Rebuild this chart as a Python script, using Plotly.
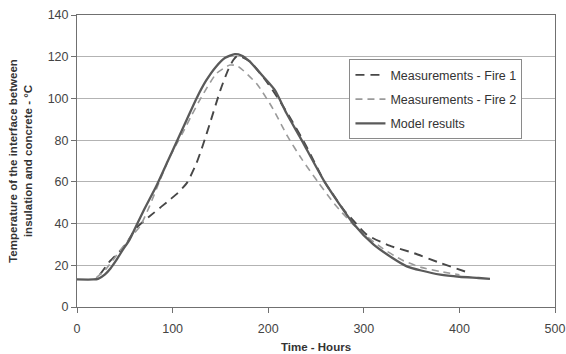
import plotly.graph_objects as go

# Model results
model_t = [0, 17, 22, 29, 35, 41.5, 48, 55, 62, 70, 83, 95, 104, 115, 125, 135, 145, 155, 165,
           172, 180, 195, 207, 219, 235, 259, 289, 310, 330, 345, 360, 380, 400, 420, 432]
model_T = [13.2, 13.2, 13.5, 15.5, 18.5, 22.7, 27.5, 32.3, 39, 46.5, 58, 70, 79, 90, 100, 108.5, 115, 119.5, 121.2,
           120.6, 118, 110.4, 104, 93, 80, 60, 40, 30, 23.5, 19.5, 17.5, 15.5, 14.5, 13.9, 13.5]

# Measurements - Fire 1
fire1_t = [24, 34.5, 48, 55, 62, 80, 97, 105, 115, 125, 132, 139, 150, 158, 163.5, 168,
           180, 200, 220, 240, 259, 270, 280, 292, 303, 327, 352, 380, 408]
fire1_T = [15.5, 22, 28.3, 33, 37.9, 45, 51.4, 54.5, 59.5, 69, 78, 88, 104, 113.6, 118.4, 120.5,
           118, 107, 93, 77, 60, 52.5, 46, 40, 34.7, 29.4, 25.9, 21.1, 16.7]

# Measurements - Fire 2
fire2_t = [20, 30, 40, 50, 60, 66, 76, 87, 97, 110, 120, 130, 146, 160, 168,
           188, 205, 220, 235, 252, 270, 288, 300, 320, 340, 360, 380, 400]
fire2_T = [14, 18, 24, 30, 35.5, 38.7, 48.5, 61, 72, 83, 92, 100.5, 112, 116, 115.5,
           107, 95, 82, 71, 60, 49, 40, 35, 28, 22.5, 19, 17, 15.5]

x_ticks = [0, 100, 200, 300, 400, 500]
y_ticks = [0, 20, 40, 60, 80, 100, 120, 140]

FONT = "Liberation Sans, Arial, sans-serif"

fig = go.Figure()
fig.add_trace(go.Scatter(
    x=fire1_t, y=fire1_T, mode="lines", name="Measurements - Fire 1",
    line=dict(color="#474747", width=1.9, dash="9px,6px", shape="spline", smoothing=0.6),
    legendgroup="a"))
fig.add_trace(go.Scatter(
    x=fire2_t, y=fire2_T, mode="lines", name="Measurements - Fire 2",
    line=dict(color="#9a9a9a", width=1.6, dash="7px,5px", shape="spline", smoothing=0.6),
    legendgroup="b"))
fig.add_trace(go.Scatter(
    x=model_t, y=model_T, mode="lines", name="Model results",
    line=dict(color="#5a5a5a", width=2.3, shape="spline", smoothing=0.6),
    legendgroup="c"))

fig.update_layout(
    width=566, height=354,
    margin=dict(l=77, r=11, t=15, b=46.5, autoexpand=False),
    paper_bgcolor="white", plot_bgcolor="white",
    font=dict(family=FONT, color="#333333", size=12),
    showlegend=True,
    legend=dict(
        x=0.57, y=0.8486, xanchor="left", yanchor="top",
        bgcolor="white", bordercolor="#8a8a8a", borderwidth=1,
        font=dict(family=FONT, size=12.5, color="#333333"),
        tracegroupgap=5, traceorder="grouped",
    ),
    xaxis=dict(
        range=[0, 500], tickvals=x_ticks, ticktext=[str(v) for v in x_ticks],
        showgrid=False, zeroline=False, automargin=False,
        showline=True, linecolor="#707070", linewidth=1, mirror=True,
        ticks="outside", ticklen=5, tickcolor="#707070",
        ticklabelstandoff=5,
        tickfont=dict(size=12.5, color="#444444"),
        title=dict(text="<b>Time - Hours</b>", font=dict(size=11.5, color="#333333"), standoff=7),
    ),
    yaxis=dict(
        range=[0, 140], tickvals=y_ticks, ticktext=[str(v) for v in y_ticks],
        showgrid=True, gridcolor="#b3b3b3", gridwidth=1, zeroline=False, automargin=False,
        showline=True, linecolor="#707070", linewidth=1, mirror=True,
        ticks="outside", ticklen=5, tickcolor="#707070",
        tickfont=dict(size=12.5, color="#444444"),
        title=dict(text="<b>Temperature of the interface between<br>insulation and concrete - °C</b>",
                   font=dict(size=11.5, color="#333333"), standoff=12),
    ),
)

fig.write_html(
    "out.html",
    config={"displayModeBar": False},
    post_script="document.body.style.margin='0';document.documentElement.style.overflow='hidden';",
)
